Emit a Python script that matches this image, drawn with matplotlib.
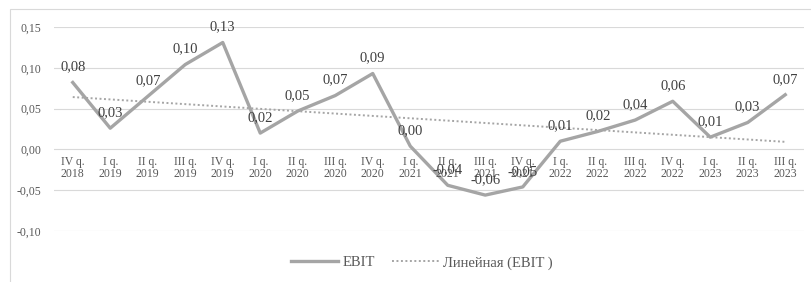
import matplotlib.pyplot as plt
from matplotlib.patches import Rectangle
from matplotlib.lines import Line2D
import numpy as np

plt.rcParams['font.family'] = ['Liberation Serif', 'DejaVu Serif']

quarters = ['IV q.\n2018', 'I q.\n2019', 'II q.\n2019', 'III q.\n2019', 'IV q.\n2019',
            'I q.\n2020', 'II q.\n2020', 'III q.\n2020', 'IV q.\n2020',
            'I q.\n2021', 'II q.\n2021', 'III q.\n2021', 'IV q.\n2021',
            'I q.\n2022', 'II q.\n2022', 'III q.\n2022', 'IV q.\n2022',
            'I q.\n2023', 'II q.\n2023', 'III q.\n2023']
ebit = [0.082, 0.026, 0.065, 0.104, 0.131, 0.020, 0.047, 0.066, 0.093, 0.004,
        -0.044, -0.056, -0.046, 0.010, 0.022, 0.036, 0.059, 0.015, 0.033, 0.067]
yticks = [-0.10, -0.05, 0.00, 0.05, 0.10, 0.15]

x = np.arange(len(ebit))
k, b = np.polyfit(x, ebit, 1)
trend = k * x + b

fig = plt.figure(figsize=(8.12, 2.82), dpi=100)
ax = fig.add_axes([54 / 812, 51 / 282, 750 / 812, 204 / 282])

# chart border
fig.patches.append(Rectangle((10 / 812, -0.05), 1.2, (282 - 9) / 282 + 0.05,
                             transform=fig.transFigure, fill=False,
                             edgecolor='#D9D9D9', linewidth=0.8))

for t in yticks:
    ax.axhline(t, color='#D9D9D9', linewidth=0.8, zorder=0)

ax.plot(x, ebit, color='#A5A5A5', linewidth=2.4, zorder=3)
ax.plot(x, trend, color='#A5A5A5', linewidth=1.4, linestyle=(0, (1, 1.3)), zorder=2)

for i, v in enumerate(ebit):
    ax.text(i, v + 0.011, f'{v:.2f}'.replace('.', ','), ha='center', va='bottom',
            fontsize=10.5, color='#404040', zorder=4)

for i, q in enumerate(quarters):
    ax.text(i, -0.008, q, ha='center', va='top', fontsize=8.5, color='#595959',
            linespacing=1.0)

ax.set_xlim(-0.5, len(ebit) - 0.5)
ax.set_ylim(-0.10, 0.15)
ax.set_yticks(yticks)
ax.set_yticklabels([f'{t:.2f}'.replace('.', ',') for t in yticks])
ax.set_xticks([])
ax.tick_params(axis='y', length=0, pad=9, labelsize=8.5, labelcolor='#595959')
for s in ax.spines.values():
    s.set_visible(False)

handles = [Line2D([], [], color='#A5A5A5', linewidth=2.4),
           Line2D([], [], color='#A5A5A5', linewidth=1.4, linestyle=(0, (1, 1.3)))]
fig.legend(handles, ['EBIT', 'Линейная (EBIT )'], loc='center', bbox_to_anchor=(0.52, 0.068),
           ncol=2, frameon=False, prop={'family': 'Liberation Serif', 'size': 10.5},
           handlelength=3.2, handletextpad=0.3, columnspacing=1.2, labelcolor='#595959')

plt.savefig('out.png', dpi=100)
